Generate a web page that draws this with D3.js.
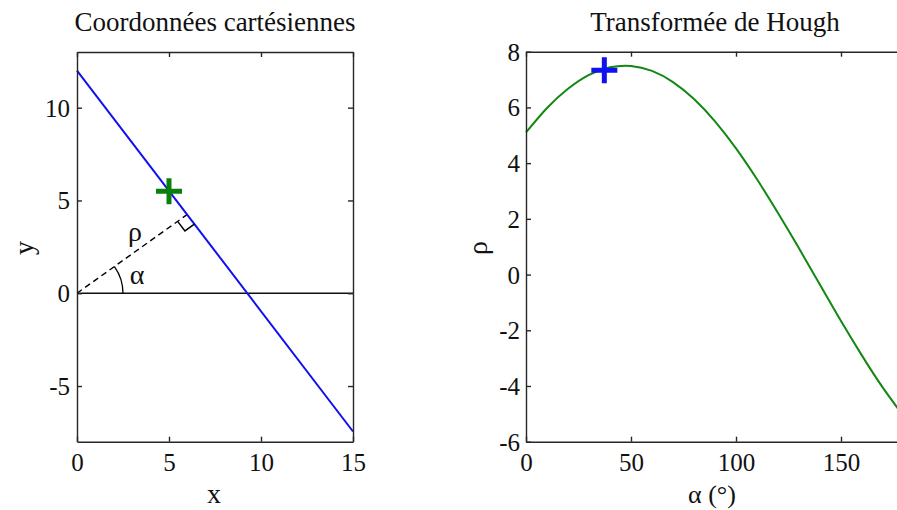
<!DOCTYPE html>
<html>
<head>
<meta charset="utf-8">
<script src="https://cdn.jsdelivr.net/npm/d3@7"></script>
<style>
  body { margin: 0; }
  svg text { font-family: "Times New Roman", "Liberation Serif", serif !important; }
</style>
</head>
<body>
<script>
// left panel: straight line, a point on it, foot of the normal
const lineX = [0, 15]
const lineY = [12, -7.45]
const pointXY = [5, 5.5]
const footXY = [6.0, 4.25]
const cartXTicks = [0, 5, 10, 15]
const cartYTicks = [-5, 0, 5, 10]

// right panel: Hough sinusoid of the point, read every 10 degrees
const alphaDeg = [0, 10, 20, 30, 40, 50, 60, 70, 80, 90, 100, 110, 120, 130, 140, 150, 160, 170, 180]
const rhoVals = [5.1, 5.98, 6.67, 7.17, 7.44, 7.49, 7.31, 6.91, 6.30, 5.50, 4.53, 3.42, 2.21, 0.94, -0.37, -1.67, -2.91, -4.07, -5.10]
const houghPeak = [37.3, 7.33]
const houghXTicks = [0, 50, 100, 150]
const houghYTicks = [-6, -4, -2, 0, 2, 4, 6, 8]

const tickFont = 25
const labelFont = 26

const svg = d3.select('body')
  .append('svg')
  .attr('width', 897)
  .attr('height', 510)

function frame (g, xs, ys, xTicks, yTicks, xPad, yPad) {
  let [x0, x1] = xs.range()
  let [y0, y1] = ys.range()
  let fmt = (d) => String(d)
  let bottom = g.append('g')
    .attr('transform', `translate(0,${y0})`)
    .call(d3.axisBottom(xs).tickValues(xTicks).tickSize(-5).tickSizeOuter(0).tickPadding(xPad).tickFormat(fmt))
  let top = g.append('g')
    .attr('transform', `translate(0,${y1})`)
    .call(d3.axisTop(xs).tickValues(xTicks).tickSize(-5).tickSizeOuter(0).tickFormat(''))
  let left = g.append('g')
    .attr('transform', `translate(${x0},0)`)
    .call(d3.axisLeft(ys).tickValues(yTicks).tickSize(-5).tickSizeOuter(0).tickPadding(yPad).tickFormat(fmt))
  let right = g.append('g')
    .attr('transform', `translate(${x1},0)`)
    .call(d3.axisRight(ys).tickValues(yTicks).tickSize(-5).tickSizeOuter(0).tickFormat(''))
  for (let a of [bottom, top, left, right]) {
    a.attr('font-family', null).attr('font-size', tickFont)
    a.selectAll('path, line').attr('stroke', '#262626').attr('stroke-width', 1.4)
    a.selectAll('text').attr('fill', '#111')
  }
  left.selectAll('text').attr('dy', '0.34em')
}

function label (g, x, y, txt, size, rot) {
  let t = g.append('text')
    .attr('text-anchor', 'middle')
    .attr('fill', '#111')
    .attr('font-size', size)
    .text(txt)
  if (rot) t.attr('transform', `translate(${x},${y}) rotate(-90)`)
  else t.attr('x', x).attr('y', y)
  return t
}

// ---------- left: cartesian ----------
let xL = d3.scaleLinear().domain([0, 15]).range([77, 353])
let yL = d3.scaleLinear().domain([-8, 13]).range([441.7, 52])
let gL = svg.append('g')

// horizontal line y = 0
gL.append('line')
  .attr('x1', xL(0)).attr('x2', xL(15))
  .attr('y1', yL(0)).attr('y2', yL(0))
  .attr('stroke', '#111').attr('stroke-width', 1.3)

// dashed normal from origin to foot
gL.append('line')
  .attr('x1', xL(0)).attr('y1', yL(0))
  .attr('x2', xL(footXY[0])).attr('y2', yL(footXY[1]))
  .attr('stroke', '#000').attr('stroke-width', 1.4)
  .attr('stroke-dasharray', '6 4')

// the line itself
gL.append('path')
  .datum(d3.zip(lineX, lineY))
  .attr('d', d3.line().x((d) => xL(d[0])).y((d) => yL(d[1])))
  .attr('fill', 'none')
  .attr('stroke', '#1010ee')
  .attr('stroke-width', 2)

// right angle mark at the foot
let fx = xL(footXY[0])
let fy = yL(footXY[1])
let ox = xL(0)
let oy = yL(0)
let ux = ox - fx
let uy = oy - fy
let ul = Math.hypot(ux, uy)
ux /= ul; uy /= ul
let vx = xL(lineX[1]) - xL(lineX[0])
let vy = yL(lineY[1]) - yL(lineY[0])
let vl = Math.hypot(vx, vy)
vx /= vl; vy /= vl
let s = 12
let sq = d3.path()
sq.moveTo(fx + s * ux, fy + s * uy)
sq.lineTo(fx + s * ux + s * vx, fy + s * uy + s * vy)
sq.lineTo(fx + s * vx, fy + s * vy)
gL.append('path')
  .attr('d', sq.toString())
  .attr('fill', 'none')
  .attr('stroke', '#000')
  .attr('stroke-width', 1.5)

// alpha arc
let ang = Math.atan2(oy - fy, fx - ox)
let arc = d3.path()
arc.arc(ox, oy, 46, 0, -ang, true)
gL.append('path')
  .attr('d', arc.toString())
  .attr('fill', 'none')
  .attr('stroke', '#000')
  .attr('stroke-width', 1.3)

label(gL, 137, 284, 'α', 28)
label(gL, 135, 241, 'ρ', 28)

// green plus on the line
gL.append('path')
  .attr('transform', `translate(${xL(pointXY[0])},${yL(pointXY[1])})`)
  .attr('d', 'M-13,0H13M0,-13V13')
  .attr('stroke', '#0a800a')
  .attr('stroke-width', 5)

frame(gL, xL, yL, cartXTicks, cartYTicks, 12, 7)

label(gL, 215, 31, 'Coordonnées cartésiennes', 27)
label(gL, 214, 503, 'x', 28)
label(gL, 33, 248, 'y', 28, true)

// ---------- right: Hough ----------
let xR = d3.scaleLinear().domain([0, 180]).range([526, 904])
let yR = d3.scaleLinear().domain([-6, 8]).range([441.7, 51.7])
let gR = svg.append('g')

gR.append('path')
  .datum(d3.zip(alphaDeg, rhoVals))
  .attr('d', d3.line().x((d) => xR(d[0])).y((d) => yR(d[1])).curve(d3.curveNatural))
  .attr('fill', 'none')
  .attr('stroke', '#128812')
  .attr('stroke-width', 2)

gR.append('path')
  .attr('transform', `translate(${xR(houghPeak[0])},${yR(houghPeak[1])})`)
  .attr('d', 'M-13,0H13M0,-13V13')
  .attr('stroke', '#1010f0')
  .attr('stroke-width', 5)

frame(gR, xR, yR, houghXTicks, houghYTicks, 12, 6)

label(gR, 715, 31, 'Transformée de Hough', 27)
label(gR, 712, 503, 'α (°)', labelFont)
label(gR, 487, 248, 'ρ', 28, true)
</script>
</body>
</html>
